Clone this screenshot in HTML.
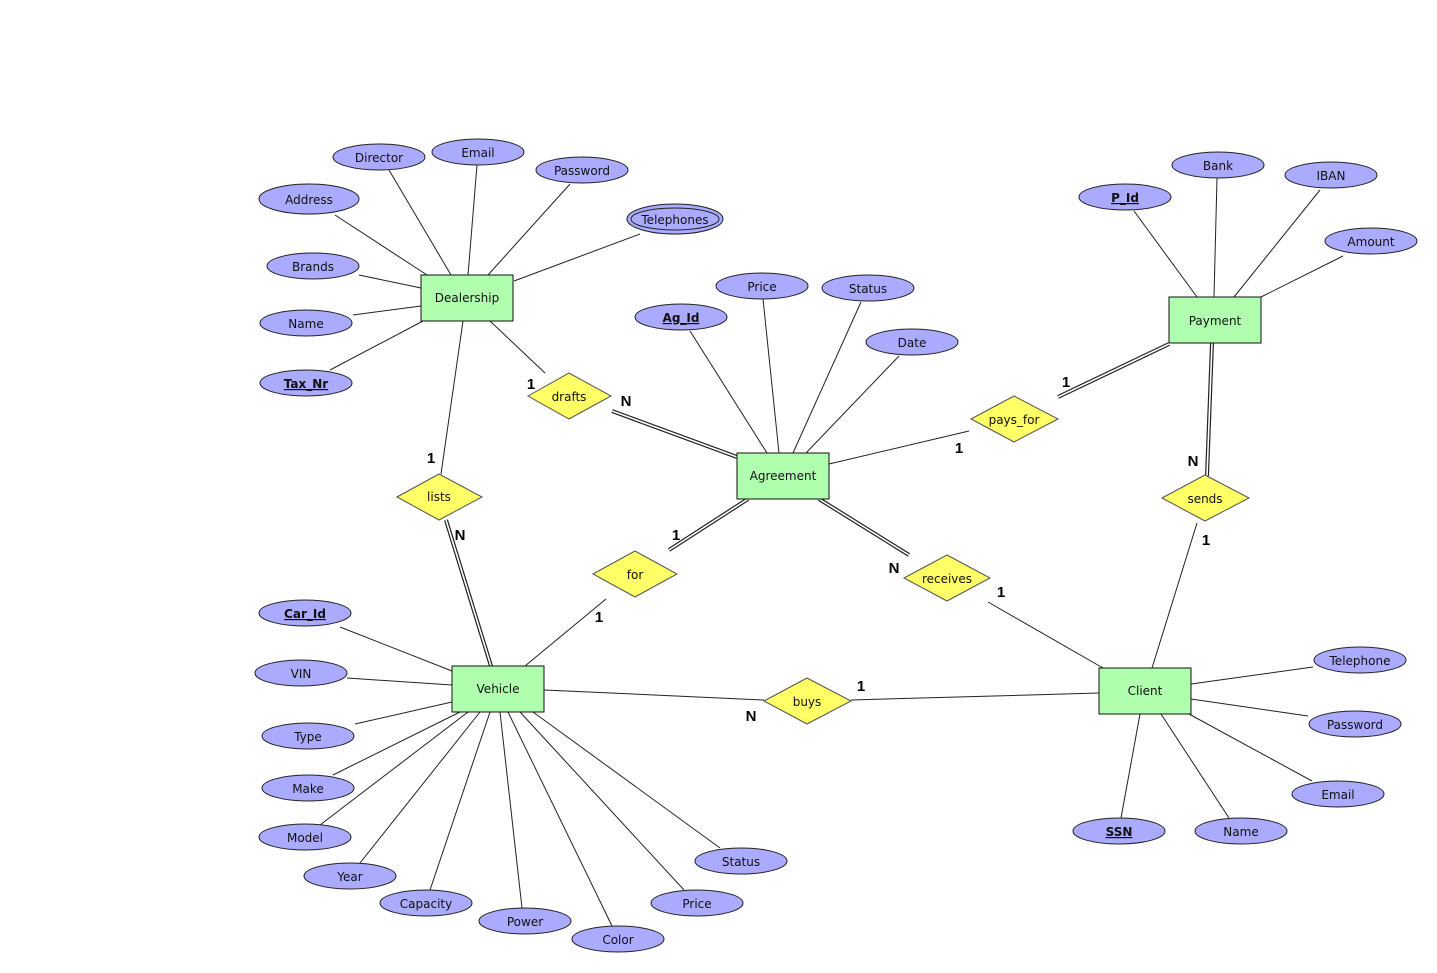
<!DOCTYPE html>
<html><head><meta charset="utf-8"><style>
html,body{margin:0;padding:0;background:#fff;}
svg{display:block;}
text{font-family:"DejaVu Sans","Liberation Sans",sans-serif;font-size:12px;fill:#111;}
.c{font-family:"Liberation Sans",sans-serif;font-weight:bold;font-size:15px;fill:#000;}
</style></head><body>
<svg width="1437" height="973" viewBox="0 0 1437 973" xmlns="http://www.w3.org/2000/svg">
<g stroke="#222" stroke-width="1" fill="none">
<line x1="389" y1="170" x2="451" y2="275"/>
<line x1="477" y1="165" x2="468" y2="275"/>
<line x1="570" y1="184" x2="488" y2="275"/>
<line x1="640" y1="234" x2="514" y2="281"/>
<line x1="335" y1="215" x2="427" y2="275"/>
<line x1="359" y1="275" x2="421" y2="288"/>
<line x1="353" y1="315" x2="421" y2="306"/>
<line x1="330" y1="370" x2="423" y2="321"/>
<line x1="490" y1="321" x2="545" y2="373"/>
<line x1="463" y1="321" x2="441" y2="474"/>
<line x1="690" y1="331" x2="767" y2="453"/>
<line x1="763" y1="299" x2="779" y2="453"/>
<line x1="861" y1="302" x2="793" y2="453"/>
<line x1="899" y1="356" x2="806" y2="453"/>
<line x1="829" y1="464" x2="969" y2="431"/>
<line x1="1134" y1="211" x2="1197" y2="297"/>
<line x1="1217" y1="178" x2="1214" y2="297"/>
<line x1="1320" y1="190" x2="1234" y2="297"/>
<line x1="1343" y1="256" x2="1261" y2="297"/>
<line x1="1197" y1="523" x2="1152" y2="668"/>
<line x1="606" y1="599" x2="525" y2="666"/>
<line x1="988" y1="602" x2="1103" y2="668"/>
<line x1="544" y1="690" x2="764" y2="700"/>
<line x1="851" y1="700" x2="1099" y2="693"/>
<line x1="340" y1="627" x2="452" y2="671"/>
<line x1="347" y1="678" x2="452" y2="685"/>
<line x1="355" y1="724" x2="452" y2="702"/>
<line x1="333" y1="775" x2="460" y2="712"/>
<line x1="320" y1="825" x2="468" y2="712"/>
<line x1="360" y1="863" x2="480" y2="712"/>
<line x1="430" y1="890" x2="490" y2="712"/>
<line x1="522" y1="908" x2="500" y2="712"/>
<line x1="612" y1="926" x2="508" y2="712"/>
<line x1="684" y1="890" x2="520" y2="712"/>
<line x1="720" y1="848" x2="533" y2="712"/>
<line x1="1313" y1="667" x2="1191" y2="684"/>
<line x1="1308" y1="716" x2="1191" y2="699"/>
<line x1="1312" y1="781" x2="1189" y2="714"/>
<line x1="1121" y1="818" x2="1140" y2="714"/>
<line x1="1229" y1="818" x2="1161" y2="714"/>
</g>
<g>
<g stroke="#222" stroke-width="4"><line x1="612" y1="411" x2="737" y2="457"/><line x1="446" y1="520" x2="491" y2="666"/><line x1="1058" y1="397" x2="1169" y2="344"/><line x1="1212" y1="343" x2="1207" y2="476"/><line x1="748" y1="499" x2="669" y2="550"/><line x1="819" y1="499" x2="909" y2="555"/></g>
<g stroke="#fff" stroke-width="1.6"><line x1="612" y1="411" x2="737" y2="457"/><line x1="446" y1="520" x2="491" y2="666"/><line x1="1058" y1="397" x2="1169" y2="344"/><line x1="1212" y1="343" x2="1207" y2="476"/><line x1="748" y1="499" x2="669" y2="550"/><line x1="819" y1="499" x2="909" y2="555"/></g>
</g>
<g fill="#afffaf" stroke="#111" stroke-width="1">
<rect x="421" y="275" width="92" height="46"/>
<rect x="737" y="453" width="92" height="46"/>
<rect x="1169" y="297" width="92" height="46"/>
<rect x="452" y="666" width="92" height="46"/>
<rect x="1099" y="668" width="92" height="46"/>
</g>
<g fill="#ffff66" stroke="#555" stroke-width="1">
<polygon points="528,396 569,373 611,396 569,419"/>
<polygon points="397,497 439,474 482,497 439,520"/>
<polygon points="593,574 635,551 677,574 635,597"/>
<polygon points="904,578 947,555 990,578 947,601"/>
<polygon points="971,419 1014,396 1058,419 1014,442"/>
<polygon points="1162,498 1205,475 1249,498 1205,521"/>
<polygon points="764,701 807,678 851,701 807,724"/>
</g>
<g fill="#aaaaff" stroke="#222" stroke-width="1">
<ellipse cx="379" cy="157" rx="46" ry="13"/>
<ellipse cx="478" cy="152" rx="46" ry="13"/>
<ellipse cx="582" cy="170" rx="46" ry="13"/>
<ellipse cx="675" cy="219" rx="48" ry="15"/>
<ellipse cx="675" cy="219" rx="44" ry="11"/>
<ellipse cx="309" cy="199" rx="50" ry="15"/>
<ellipse cx="313" cy="266" rx="46" ry="13"/>
<ellipse cx="306" cy="323" rx="46" ry="13"/>
<ellipse cx="306" cy="383" rx="46" ry="13"/>
<ellipse cx="681" cy="317" rx="46" ry="13"/>
<ellipse cx="762" cy="286" rx="46" ry="13"/>
<ellipse cx="868" cy="288" rx="46" ry="13"/>
<ellipse cx="912" cy="342" rx="46" ry="13"/>
<ellipse cx="1218" cy="165" rx="46" ry="13"/>
<ellipse cx="1331" cy="175" rx="46" ry="13"/>
<ellipse cx="1125" cy="197" rx="46" ry="13"/>
<ellipse cx="1371" cy="241" rx="46" ry="13"/>
<ellipse cx="305" cy="613" rx="46" ry="13"/>
<ellipse cx="301" cy="673" rx="46" ry="13"/>
<ellipse cx="308" cy="736" rx="46" ry="13"/>
<ellipse cx="308" cy="788" rx="46" ry="13"/>
<ellipse cx="305" cy="837" rx="46" ry="13"/>
<ellipse cx="350" cy="876" rx="46" ry="13"/>
<ellipse cx="426" cy="903" rx="46" ry="13"/>
<ellipse cx="525" cy="921" rx="46" ry="13"/>
<ellipse cx="618" cy="939" rx="46" ry="13"/>
<ellipse cx="697" cy="903" rx="46" ry="13"/>
<ellipse cx="741" cy="861" rx="46" ry="13"/>
<ellipse cx="1360" cy="660" rx="46" ry="13"/>
<ellipse cx="1355" cy="724" rx="46" ry="13"/>
<ellipse cx="1338" cy="794" rx="46" ry="13"/>
<ellipse cx="1119" cy="831" rx="46" ry="13"/>
<ellipse cx="1241" cy="831" rx="46" ry="13"/>
</g>
<g text-anchor="middle">
<text x="467" y="302">Dealership</text>
<text x="783" y="480">Agreement</text>
<text x="1215" y="325">Payment</text>
<text x="498" y="693">Vehicle</text>
<text x="1145" y="695">Client</text>
<text x="569" y="401">drafts</text>
<text x="439" y="501">lists</text>
<text x="635" y="579">for</text>
<text x="947" y="583">receives</text>
<text x="1014" y="424">pays_for</text>
<text x="1205" y="503">sends</text>
<text x="807" y="706">buys</text>
<text x="379" y="162">Director</text>
<text x="478" y="157">Email</text>
<text x="582" y="175">Password</text>
<text x="675" y="224">Telephones</text>
<text x="309" y="204">Address</text>
<text x="313" y="271">Brands</text>
<text x="306" y="328">Name</text>
<text x="306" y="388" font-weight="bold" text-decoration="underline">Tax_Nr</text>
<text x="681" y="322" font-weight="bold" text-decoration="underline">Ag_Id</text>
<text x="762" y="291">Price</text>
<text x="868" y="293">Status</text>
<text x="912" y="347">Date</text>
<text x="1218" y="170">Bank</text>
<text x="1331" y="180">IBAN</text>
<text x="1125" y="202" font-weight="bold" text-decoration="underline">P_Id</text>
<text x="1371" y="246">Amount</text>
<text x="305" y="618" font-weight="bold" text-decoration="underline">Car_Id</text>
<text x="301" y="678">VIN</text>
<text x="308" y="741">Type</text>
<text x="308" y="793">Make</text>
<text x="305" y="842">Model</text>
<text x="350" y="881">Year</text>
<text x="426" y="908">Capacity</text>
<text x="525" y="926">Power</text>
<text x="618" y="944">Color</text>
<text x="697" y="908">Price</text>
<text x="741" y="866">Status</text>
<text x="1360" y="665">Telephone</text>
<text x="1355" y="729">Password</text>
<text x="1338" y="799">Email</text>
<text x="1119" y="836" font-weight="bold" text-decoration="underline">SSN</text>
<text x="1241" y="836">Name</text>
</g>
<g class="c" text-anchor="middle">
<text class="c" x="531" y="389">1</text>
<text class="c" x="626" y="406">N</text>
<text class="c" x="431" y="463">1</text>
<text class="c" x="460" y="540">N</text>
<text class="c" x="959" y="453">1</text>
<text class="c" x="1066" y="387">1</text>
<text class="c" x="1193" y="466">N</text>
<text class="c" x="1206" y="545">1</text>
<text class="c" x="676" y="540">1</text>
<text class="c" x="599" y="622">1</text>
<text class="c" x="894" y="573">N</text>
<text class="c" x="1001" y="597">1</text>
<text class="c" x="751" y="721">N</text>
<text class="c" x="861" y="691">1</text>
</g>
</svg>
</body></html>
